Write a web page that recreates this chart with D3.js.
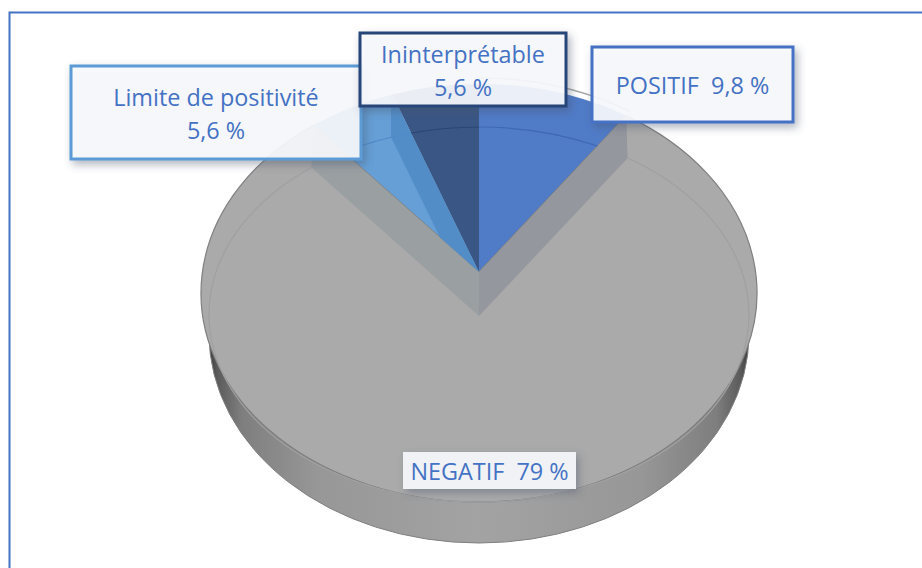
<!DOCTYPE html>
<html>
<head>
<meta charset="utf-8">
<script src="https://cdnjs.cloudflare.com/ajax/libs/d3/7.8.5/d3.min.js"></script>
<style>
  html, body { margin: 0; padding: 0; background: #fff; overflow: hidden; }
  text { font-family: "Open Sans", "Noto Sans", sans-serif; fill: #4472c4; }
</style>
</head>
<body>
<div id="chart"></div>
<script>
'use strict';

// clockwise from the left cut of the grey slice
var categories = ['Limite de positivité', 'Ininterprétable', 'POSITIF', 'NEGATIF'];
var values = [5.6, 5.6, 9.8, 79];
var valueLabels = ['5,6 %', '5,6 %', '9,8 %', '79 %'];
var topColors = ['#659fd6', '#3a5684', '#507bc7', '#aaaaaa'];
var arcColors = ['#4f8bc9', '#2b4674', '#3f68b4', '#a0a0a0'];

var WIDTH = 922, HEIGHT = 568;

// ellipses of the tilted disc
var cx = 479;
var outer = { cy: 293, rx: 278, ry: 209 };
var inner = { cy: 314.5, rx: 270, ry: 187.5 };
var bottom = { cy: 334, rx: 270, ry: 209 };
var apex = { x: cx, y: 272 };
var apexLow = { x: cx, y: 316 };

var svg = d3.select('#chart').append('svg')
  .attr('width', WIDTH)
  .attr('height', HEIGHT);

var defs = svg.append('defs');

var sideGrad = defs.append('linearGradient')
  .attr('id', 'side')
  .attr('x1', 0).attr('x2', 1).attr('y1', 0).attr('y2', 0);
[[0, '#3c3c3c'], [0.015, '#5a5a5a'], [0.06, '#7e7e7e'], [0.2, '#979797'], [0.5, '#a3a3a3'],
 [0.8, '#979797'], [0.94, '#7e7e7e'], [0.985, '#5a5a5a'], [1, '#3c3c3c']].forEach(function(s) {
  sideGrad.append('stop').attr('offset', s[0]).attr('stop-color', s[1]);
});

var shadow = defs.append('filter')
  .attr('id', 'shadow')
  .attr('x', '-10%').attr('y', '-20%').attr('width', '125%').attr('height', '150%');
shadow.append('feDropShadow')
  .attr('dx', 3).attr('dy', 4).attr('stdDeviation', 4)
  .attr('flood-color', '#44546a').attr('flood-opacity', 0.45);

// where the ray from p at pie angle a meets the ellipse e
function rayHit(p, a, e) {
  var dx = Math.sin(a) * outer.rx, dy = -Math.cos(a) * outer.ry;
  var ax = dx / e.rx, ay = dy / e.ry;
  var bx = (p.x - cx) / e.rx, by = (p.y - e.cy) / e.ry;
  var A = ax * ax + ay * ay, B = 2 * (ax * bx + ay * by), C = bx * bx + by * by - 1;
  var t = (-B + Math.sqrt(B * B - 4 * A * C)) / (2 * A);
  return { x: p.x + t * dx, y: p.y + t * dy };
}

function mix(p, q, t) {
  return { x: p.x + (q.x - p.x) * t, y: p.y + (q.y - p.y) * t };
}

function poly(pts) {
  return 'M' + pts.map(function(p) { return p.x + ',' + p.y; }).join('L') + 'Z';
}

function sweep(a0, a1, p, e, close) {
  var s = rayHit(p, a0, e), t = rayHit(p, a1, e);
  var large = a1 - a0 > Math.PI ? 1 : 0;
  var d = 'M' + s.x + ',' + s.y + 'A' + e.rx + ',' + e.ry + ' 0 ' + large + ' 1 ' + t.x + ',' + t.y;
  return close ? 'M' + p.x + ',' + p.y + 'L' + d.slice(1) + 'Z' : d;
}

// the three small slices are read from the first value on, so turn the pie back by their left part
var startAngle = -2 * Math.PI * (values[0] + values[1]) / 100;
var pie = d3.pie().sort(null).startAngle(startAngle).endAngle(startAngle + 2 * Math.PI);
var slices = pie(values);
var limite = slices[0];
var positif = slices[2];
var grey = slices[3];

// side wall, the top face hides all but its lower rim
svg.append('ellipse')
  .attr('cx', cx).attr('cy', bottom.cy)
  .attr('rx', bottom.rx).attr('ry', bottom.ry)
  .attr('fill', 'url(#side)')
  .attr('stroke', '#808080').attr('stroke-width', 1);

// thin rim showing behind the positif slice
svg.append('path')
  .attr('d', sweep(positif.startAngle, positif.endAngle, apex, { cy: outer.cy - 6, rx: outer.rx, ry: outer.ry }, false))
  .attr('fill', 'none').attr('stroke', '#a6a6a6').attr('stroke-width', 1.5);

svg.selectAll('path.slice')
  .data(slices)
  .enter().append('path')
  .attr('class', 'slice')
  .attr('d', function(d) { return sweep(d.startAngle, d.endAngle, apex, outer, true); })
  .attr('fill', function(d, i) { return topColors[i]; });

// grey rim all round the big slice
svg.append('path')
  .attr('d', sweep(grey.startAngle, grey.endAngle, apex, outer, true))
  .attr('fill', 'none').attr('stroke', '#7f7f7f').attr('stroke-width', 1.2);

// bevel next to the cut of the big slice
var rightOut = rayHit(apex, grey.startAngle, outer);
var rightIn = rayHit(apexLow, grey.startAngle, inner);
var leftOut = rayHit(apex, grey.endAngle, outer);
var leftIn = rayHit(apexLow, grey.endAngle, inner);

svg.append('path')
  .attr('d', poly([apex, rightOut, rightIn, apexLow]))
  .attr('fill', '#94979e');
svg.append('path')
  .attr('d', poly([apex, leftOut, leftIn, apexLow]))
  .attr('fill', '#9a9fa2');

// darker strip on the limite slice, its inner corner sits on the left cut
var limOut = rayHit(apex, limite.endAngle, outer);
var limEdge = mix(apex, rayHit(apex, limite.startAngle, outer), 0.235);
var limIn = rayHit(limEdge, limite.endAngle, inner);
var limTop = { x: limIn.x, y: outer.cy - outer.ry * Math.sqrt(1 - Math.pow((limIn.x - cx) / outer.rx, 2)) };
svg.append('path')
  .attr('d', poly([apex, limOut, limTop, limIn, limEdge]))
  .attr('fill', '#528dc8');

// inner arcs of the bevel
svg.selectAll('path.inner')
  .data(slices)
  .enter().append('path')
  .attr('class', 'inner')
  .attr('d', function(d, i) {
    var p = i === 3 ? apexLow : apex;
    return sweep(d.startAngle, d.endAngle, p, inner, false);
  })
  .attr('fill', 'none')
  .attr('stroke', function(d, i) { return arcColors[i]; })
  .attr('stroke-width', 1.2);

// labels, same order as the slices
var labelBoxes = [
  { x: 71, y: 66, w: 290, h: 93, color: '#5b9bd5', sw: 3, lines: [categories[0], valueLabels[0]] },
  { x: 360, y: 33, w: 206, h: 73, color: '#264478', sw: 3, lines: [categories[1], valueLabels[1]] },
  { x: 592, y: 47, w: 201, h: 75, color: '#4472c4', sw: 3, lines: [categories[2] + '  ' + valueLabels[2]] },
  { x: 403, y: 452, w: 173, h: 37, color: 'none', sw: 0, lines: [categories[3] + '  ' + valueLabels[3]] }
];

var order = [3, 0, 1, 2];
order.forEach(function(i) {
  var b = labelBoxes[i];
  var g = svg.append('g');
  g.append('rect')
    .attr('x', b.x).attr('y', b.y).attr('width', b.w).attr('height', b.h)
    .attr('fill', '#f9fbfe').attr('fill-opacity', 0.9)
    .attr('stroke', b.color).attr('stroke-width', b.sw)
    .attr('filter', 'url(#shadow)');
  var lh = 33;
  var y0 = b.y + b.h / 2 - (b.lines.length - 1) * lh / 2 + 9.5;
  b.lines.forEach(function(t, k) {
    g.append('text')
      .attr('x', b.x + b.w / 2)
      .attr('y', y0 + k * lh)
      .attr('text-anchor', 'middle')
      .attr('font-size', 23.4)
      .attr('xml:space', 'preserve')
      .text(t);
  });
});

// slide frame
svg.append('path')
  .attr('d', 'M9.5,' + HEIGHT + 'V12.5H' + WIDTH)
  .attr('fill', 'none')
  .attr('stroke', '#4472c4').attr('stroke-width', 2);
</script>
</body>
</html>
